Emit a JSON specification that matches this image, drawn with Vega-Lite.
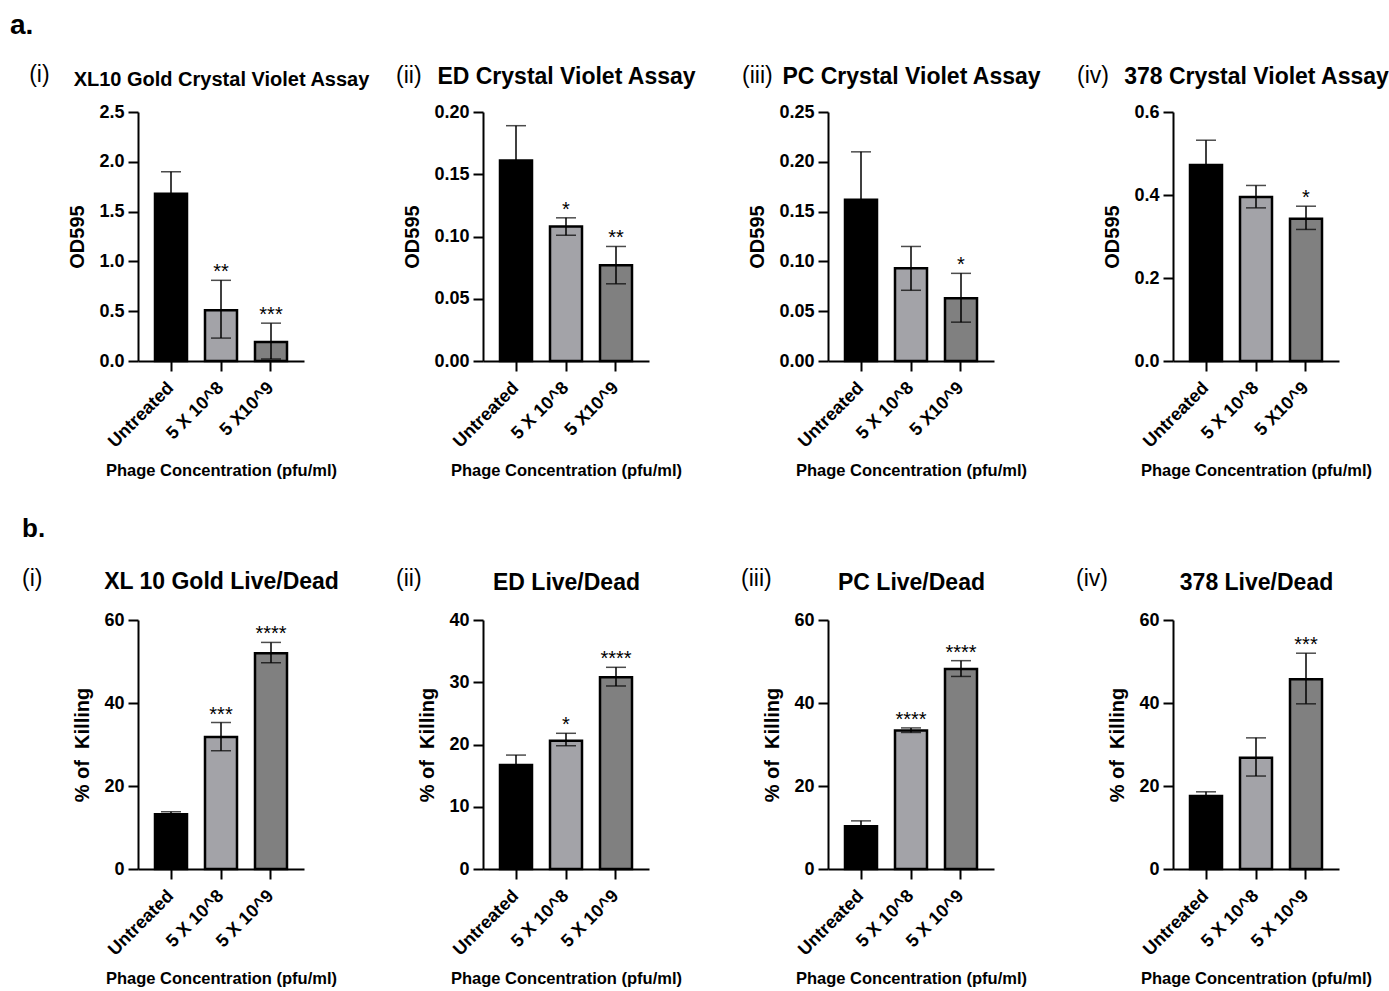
{
  "$schema": "https://vega.github.io/schema/vega-lite/v6.json",
  "padding": {"left": 10, "top": 12, "right": 5, "bottom": 5},
  "background": "white",
  "datasets": {
    "a1": [
      {"cond": "Untreated", "mean": 1.68, "lo": 1.46, "hi": 1.9, "sig": ""},
      {"cond": "5 X 10^8", "mean": 0.51, "lo": 0.23, "hi": 0.81, "sig": "**"},
      {"cond": "5 X10^9", "mean": 0.19, "lo": 0.02, "hi": 0.38, "sig": "***"}
    ],
    "a2": [
      {"cond": "Untreated", "mean": 0.161, "lo": 0.133, "hi": 0.189, "sig": ""},
      {"cond": "5 X 10^8", "mean": 0.108, "lo": 0.101, "hi": 0.115, "sig": "*"},
      {"cond": "5 X10^9", "mean": 0.077, "lo": 0.062, "hi": 0.092, "sig": "**"}
    ],
    "a3": [
      {"cond": "Untreated", "mean": 0.162, "lo": 0.114, "hi": 0.21, "sig": ""},
      {"cond": "5 X 10^8", "mean": 0.093, "lo": 0.071, "hi": 0.115, "sig": ""},
      {"cond": "5 X10^9", "mean": 0.063, "lo": 0.039, "hi": 0.088, "sig": "*"}
    ],
    "a4": [
      {"cond": "Untreated", "mean": 0.472, "lo": 0.412, "hi": 0.532, "sig": ""},
      {"cond": "5 X 10^8", "mean": 0.395, "lo": 0.369, "hi": 0.423, "sig": ""},
      {"cond": "5 X10^9", "mean": 0.343, "lo": 0.317, "hi": 0.373, "sig": "*"}
    ],
    "b1": [
      {"cond": "Untreated", "mean": 13.2, "lo": 12.6, "hi": 13.8, "sig": ""},
      {"cond": "5 X 10^8", "mean": 31.8, "lo": 28.5, "hi": 35.3, "sig": "***"},
      {"cond": "5 X 10^9", "mean": 52.0, "lo": 49.7, "hi": 54.6, "sig": "****"}
    ],
    "b2": [
      {"cond": "Untreated", "mean": 16.7, "lo": 15.0, "hi": 18.3, "sig": ""},
      {"cond": "5 X 10^8", "mean": 20.6, "lo": 19.8, "hi": 21.8, "sig": "*"},
      {"cond": "5 X 10^9", "mean": 30.8, "lo": 29.4, "hi": 32.4, "sig": "****"}
    ],
    "b3": [
      {"cond": "Untreated", "mean": 10.3, "lo": 9.0, "hi": 11.6, "sig": ""},
      {"cond": "5 X 10^8", "mean": 33.4, "lo": 32.9, "hi": 34.0, "sig": "****"},
      {"cond": "5 X 10^9", "mean": 48.2, "lo": 46.4, "hi": 50.2, "sig": "****"}
    ],
    "b4": [
      {"cond": "Untreated", "mean": 17.6, "lo": 16.6, "hi": 18.6, "sig": ""},
      {"cond": "5 X 10^8", "mean": 26.8, "lo": 22.4, "hi": 31.6, "sig": ""},
      {"cond": "5 X 10^9", "mean": 45.7, "lo": 39.8, "hi": 52.0, "sig": "***"}
    ]
  },
  "columns": 4,
  "bounds": "flush",
  "spacing": {"row": 259, "column": 179},
  "resolve": {"scale": {"color": "independent"}},
  "concat": [
    {
      "data": {"name": "a1"}, "width": 166, "height": 249,
      "title": {"text": "a.", "subtitle": "\u200b\u00a0\u00a0\u00a0(i)", "fontSize": 28, "fontWeight": "bold", "subtitleFontSize": 23, "subtitleFontWeight": "normal", "subtitlePadding": 24, "dx": -128, "dy": 22},
      "resolve": {"axis": {"x": "independent"}},
      "layer": [
        {"mark": {"type": "bar", "stroke": "black", "strokeWidth": 2.5},
         "encoding": {
           "x": {"field": "cond", "type": "nominal", "sort": null, "scale": {"paddingInner": 0.36, "paddingOuter": 0.34}, "axis": {"title": "Phage Concentration (pfu/ml)"}},
           "y": {"field": "mean", "type": "quantitative", "scale": {"domain": [0, 2.5], "nice": false}, "axis": {"title": "OD595", "values": [0, 0.5, 1, 1.5, 2, 2.5], "format": ".1f"}},
           "color": {"field": "cond", "type": "nominal", "sort": null, "scale": {"range": ["#000000", "#a3a3a8", "#808080"]}, "legend": null}}},
        {"mark": {"type": "rule", "color": "black", "strokeWidth": 1.5},
         "encoding": {"x": {"field": "cond", "type": "nominal", "sort": null, "axis": null}, "y": {"field": "lo", "type": "quantitative"}, "y2": {"field": "hi"}}},
        {"mark": {"type": "tick", "color": "black", "thickness": 1.5, "size": 20},
         "encoding": {"x": {"field": "cond", "type": "nominal", "sort": null, "axis": null}, "y": {"field": "hi", "type": "quantitative"}}},
        {"mark": {"type": "tick", "color": "black", "thickness": 1.5, "size": 20},
         "encoding": {"x": {"field": "cond", "type": "nominal", "sort": null, "axis": null}, "y": {"field": "lo", "type": "quantitative"}}},
        {"mark": {"type": "text", "baseline": "alphabetic", "dy": -2, "fontSize": 20, "color": "black"},
         "encoding": {"x": {"field": "cond", "type": "nominal", "sort": null, "axis": {"orient": "top", "title": "XL10 Gold Crystal Violet Assay", "labels": false, "ticks": false, "domain": false, "titleFontSize": 20, "titlePadding": 27, "titleBaseline": "alphabetic"}}, "y": {"field": "hi", "type": "quantitative"}, "text": {"field": "sig"}}}
      ]
    },
    {
      "data": {"name": "a2"}, "width": 166, "height": 249,
      "title": {"text": "(ii)", "dx": -87, "dy": 27},
      "resolve": {"axis": {"x": "independent"}},
      "layer": [
        {"mark": {"type": "bar", "stroke": "black", "strokeWidth": 2.5},
         "encoding": {
           "x": {"field": "cond", "type": "nominal", "sort": null, "scale": {"paddingInner": 0.36, "paddingOuter": 0.34}, "axis": {"title": "Phage Concentration (pfu/ml)"}},
           "y": {"field": "mean", "type": "quantitative", "scale": {"domain": [0, 0.2], "nice": false}, "axis": {"title": "OD595", "values": [0, 0.05, 0.1, 0.15, 0.2], "format": ".2f"}},
           "color": {"field": "cond", "type": "nominal", "sort": null, "scale": {"range": ["#000000", "#a3a3a8", "#808080"]}, "legend": null}}},
        {"mark": {"type": "rule", "color": "black", "strokeWidth": 1.5},
         "encoding": {"x": {"field": "cond", "type": "nominal", "sort": null, "axis": null}, "y": {"field": "lo", "type": "quantitative"}, "y2": {"field": "hi"}}},
        {"mark": {"type": "tick", "color": "black", "thickness": 1.5, "size": 20},
         "encoding": {"x": {"field": "cond", "type": "nominal", "sort": null, "axis": null}, "y": {"field": "hi", "type": "quantitative"}}},
        {"mark": {"type": "tick", "color": "black", "thickness": 1.5, "size": 20},
         "encoding": {"x": {"field": "cond", "type": "nominal", "sort": null, "axis": null}, "y": {"field": "lo", "type": "quantitative"}}},
        {"mark": {"type": "text", "baseline": "alphabetic", "dy": -2, "fontSize": 20, "color": "black"},
         "encoding": {"x": {"field": "cond", "type": "nominal", "sort": null, "axis": {"orient": "top", "title": "ED Crystal Violet Assay", "labels": false, "ticks": false, "domain": false, "titleFontSize": 23, "titlePadding": 29, "titleBaseline": "alphabetic"}}, "y": {"field": "hi", "type": "quantitative"}, "text": {"field": "sig"}}}
      ]
    },
    {
      "data": {"name": "a3"}, "width": 166, "height": 249,
      "title": {"text": "(iii)", "dx": -86, "dy": 27},
      "resolve": {"axis": {"x": "independent"}},
      "layer": [
        {"mark": {"type": "bar", "stroke": "black", "strokeWidth": 2.5},
         "encoding": {
           "x": {"field": "cond", "type": "nominal", "sort": null, "scale": {"paddingInner": 0.36, "paddingOuter": 0.34}, "axis": {"title": "Phage Concentration (pfu/ml)"}},
           "y": {"field": "mean", "type": "quantitative", "scale": {"domain": [0, 0.25], "nice": false}, "axis": {"title": "OD595", "values": [0, 0.05, 0.1, 0.15, 0.2, 0.25], "format": ".2f"}},
           "color": {"field": "cond", "type": "nominal", "sort": null, "scale": {"range": ["#000000", "#a3a3a8", "#808080"]}, "legend": null}}},
        {"mark": {"type": "rule", "color": "black", "strokeWidth": 1.5},
         "encoding": {"x": {"field": "cond", "type": "nominal", "sort": null, "axis": null}, "y": {"field": "lo", "type": "quantitative"}, "y2": {"field": "hi"}}},
        {"mark": {"type": "tick", "color": "black", "thickness": 1.5, "size": 20},
         "encoding": {"x": {"field": "cond", "type": "nominal", "sort": null, "axis": null}, "y": {"field": "hi", "type": "quantitative"}}},
        {"mark": {"type": "tick", "color": "black", "thickness": 1.5, "size": 20},
         "encoding": {"x": {"field": "cond", "type": "nominal", "sort": null, "axis": null}, "y": {"field": "lo", "type": "quantitative"}}},
        {"mark": {"type": "text", "baseline": "alphabetic", "dy": -2, "fontSize": 20, "color": "black"},
         "encoding": {"x": {"field": "cond", "type": "nominal", "sort": null, "axis": {"orient": "top", "title": "PC Crystal Violet Assay", "labels": false, "ticks": false, "domain": false, "titleFontSize": 23, "titlePadding": 29, "titleBaseline": "alphabetic"}}, "y": {"field": "hi", "type": "quantitative"}, "text": {"field": "sig"}}}
      ]
    },
    {
      "data": {"name": "a4"}, "width": 166, "height": 249,
      "title": {"text": "(iv)", "dx": -96, "dy": 27},
      "resolve": {"axis": {"x": "independent"}},
      "layer": [
        {"mark": {"type": "bar", "stroke": "black", "strokeWidth": 2.5},
         "encoding": {
           "x": {"field": "cond", "type": "nominal", "sort": null, "scale": {"paddingInner": 0.36, "paddingOuter": 0.34}, "axis": {"title": "Phage Concentration (pfu/ml)"}},
           "y": {"field": "mean", "type": "quantitative", "scale": {"domain": [0, 0.6], "nice": false}, "axis": {"title": "OD595", "values": [0, 0.2, 0.4, 0.6], "format": ".1f"}},
           "color": {"field": "cond", "type": "nominal", "sort": null, "scale": {"range": ["#000000", "#a3a3a8", "#808080"]}, "legend": null}}},
        {"mark": {"type": "rule", "color": "black", "strokeWidth": 1.5},
         "encoding": {"x": {"field": "cond", "type": "nominal", "sort": null, "axis": null}, "y": {"field": "lo", "type": "quantitative"}, "y2": {"field": "hi"}}},
        {"mark": {"type": "tick", "color": "black", "thickness": 1.5, "size": 20},
         "encoding": {"x": {"field": "cond", "type": "nominal", "sort": null, "axis": null}, "y": {"field": "hi", "type": "quantitative"}}},
        {"mark": {"type": "tick", "color": "black", "thickness": 1.5, "size": 20},
         "encoding": {"x": {"field": "cond", "type": "nominal", "sort": null, "axis": null}, "y": {"field": "lo", "type": "quantitative"}}},
        {"mark": {"type": "text", "baseline": "alphabetic", "dy": -2, "fontSize": 20, "color": "black"},
         "encoding": {"x": {"field": "cond", "type": "nominal", "sort": null, "axis": {"orient": "top", "title": "378 Crystal Violet Assay", "labels": false, "ticks": false, "domain": false, "titleFontSize": 23, "titlePadding": 29, "titleBaseline": "alphabetic"}}, "y": {"field": "hi", "type": "quantitative"}, "text": {"field": "sig"}}}
      ]
    },
    {
      "data": {"name": "b1"}, "width": 166, "height": 249,
      "title": {"text": "b.", "subtitle": "(i)", "fontSize": 26, "fontWeight": "bold", "subtitleFontSize": 23, "subtitleFontWeight": "normal", "subtitlePadding": 26, "dx": -116, "dy": 25},
      "resolve": {"axis": {"x": "independent"}},
      "layer": [
        {"mark": {"type": "bar", "stroke": "black", "strokeWidth": 2.5},
         "encoding": {
           "x": {"field": "cond", "type": "nominal", "sort": null, "scale": {"paddingInner": 0.36, "paddingOuter": 0.34}, "axis": {"title": "Phage Concentration (pfu/ml)"}},
           "y": {"field": "mean", "type": "quantitative", "scale": {"domain": [0, 60], "nice": false}, "axis": {"title": "% of\u00a0 Killing", "values": [0, 20, 40, 60]}},
           "color": {"field": "cond", "type": "nominal", "sort": null, "scale": {"range": ["#000000", "#a3a3a8", "#808080"]}, "legend": null}}},
        {"mark": {"type": "rule", "color": "black", "strokeWidth": 1.5},
         "encoding": {"x": {"field": "cond", "type": "nominal", "sort": null, "axis": null}, "y": {"field": "lo", "type": "quantitative"}, "y2": {"field": "hi"}}},
        {"mark": {"type": "tick", "color": "black", "thickness": 1.5, "size": 20},
         "encoding": {"x": {"field": "cond", "type": "nominal", "sort": null, "axis": null}, "y": {"field": "hi", "type": "quantitative"}}},
        {"mark": {"type": "tick", "color": "black", "thickness": 1.5, "size": 20},
         "encoding": {"x": {"field": "cond", "type": "nominal", "sort": null, "axis": null}, "y": {"field": "lo", "type": "quantitative"}}},
        {"mark": {"type": "text", "baseline": "alphabetic", "dy": -2, "fontSize": 20, "color": "black"},
         "encoding": {"x": {"field": "cond", "type": "nominal", "sort": null, "axis": {"orient": "top", "title": "XL 10 Gold Live/Dead", "labels": false, "ticks": false, "domain": false, "titleFontSize": 23, "titlePadding": 32, "titleBaseline": "alphabetic"}}, "y": {"field": "hi", "type": "quantitative"}, "text": {"field": "sig"}}}
      ]
    },
    {
      "data": {"name": "b2"}, "width": 166, "height": 249,
      "title": {"text": "(ii)", "dx": -87, "dy": 24},
      "resolve": {"axis": {"x": "independent"}},
      "layer": [
        {"mark": {"type": "bar", "stroke": "black", "strokeWidth": 2.5},
         "encoding": {
           "x": {"field": "cond", "type": "nominal", "sort": null, "scale": {"paddingInner": 0.36, "paddingOuter": 0.34}, "axis": {"title": "Phage Concentration (pfu/ml)"}},
           "y": {"field": "mean", "type": "quantitative", "scale": {"domain": [0, 40], "nice": false}, "axis": {"title": "% of\u00a0 Killing", "values": [0, 10, 20, 30, 40]}},
           "color": {"field": "cond", "type": "nominal", "sort": null, "scale": {"range": ["#000000", "#a3a3a8", "#808080"]}, "legend": null}}},
        {"mark": {"type": "rule", "color": "black", "strokeWidth": 1.5},
         "encoding": {"x": {"field": "cond", "type": "nominal", "sort": null, "axis": null}, "y": {"field": "lo", "type": "quantitative"}, "y2": {"field": "hi"}}},
        {"mark": {"type": "tick", "color": "black", "thickness": 1.5, "size": 20},
         "encoding": {"x": {"field": "cond", "type": "nominal", "sort": null, "axis": null}, "y": {"field": "hi", "type": "quantitative"}}},
        {"mark": {"type": "tick", "color": "black", "thickness": 1.5, "size": 20},
         "encoding": {"x": {"field": "cond", "type": "nominal", "sort": null, "axis": null}, "y": {"field": "lo", "type": "quantitative"}}},
        {"mark": {"type": "text", "baseline": "alphabetic", "dy": -2, "fontSize": 20, "color": "black"},
         "encoding": {"x": {"field": "cond", "type": "nominal", "sort": null, "axis": {"orient": "top", "title": "ED Live/Dead", "labels": false, "ticks": false, "domain": false, "titleFontSize": 23, "titlePadding": 31, "titleBaseline": "alphabetic"}}, "y": {"field": "hi", "type": "quantitative"}, "text": {"field": "sig"}}}
      ]
    },
    {
      "data": {"name": "b3"}, "width": 166, "height": 249,
      "title": {"text": "(iii)", "dx": -87, "dy": 24},
      "resolve": {"axis": {"x": "independent"}},
      "layer": [
        {"mark": {"type": "bar", "stroke": "black", "strokeWidth": 2.5},
         "encoding": {
           "x": {"field": "cond", "type": "nominal", "sort": null, "scale": {"paddingInner": 0.36, "paddingOuter": 0.34}, "axis": {"title": "Phage Concentration (pfu/ml)"}},
           "y": {"field": "mean", "type": "quantitative", "scale": {"domain": [0, 60], "nice": false}, "axis": {"title": "% of\u00a0 Killing", "values": [0, 20, 40, 60]}},
           "color": {"field": "cond", "type": "nominal", "sort": null, "scale": {"range": ["#000000", "#a3a3a8", "#808080"]}, "legend": null}}},
        {"mark": {"type": "rule", "color": "black", "strokeWidth": 1.5},
         "encoding": {"x": {"field": "cond", "type": "nominal", "sort": null, "axis": null}, "y": {"field": "lo", "type": "quantitative"}, "y2": {"field": "hi"}}},
        {"mark": {"type": "tick", "color": "black", "thickness": 1.5, "size": 20},
         "encoding": {"x": {"field": "cond", "type": "nominal", "sort": null, "axis": null}, "y": {"field": "hi", "type": "quantitative"}}},
        {"mark": {"type": "tick", "color": "black", "thickness": 1.5, "size": 20},
         "encoding": {"x": {"field": "cond", "type": "nominal", "sort": null, "axis": null}, "y": {"field": "lo", "type": "quantitative"}}},
        {"mark": {"type": "text", "baseline": "alphabetic", "dy": -2, "fontSize": 20, "color": "black"},
         "encoding": {"x": {"field": "cond", "type": "nominal", "sort": null, "axis": {"orient": "top", "title": "PC Live/Dead", "labels": false, "ticks": false, "domain": false, "titleFontSize": 23, "titlePadding": 31, "titleBaseline": "alphabetic"}}, "y": {"field": "hi", "type": "quantitative"}, "text": {"field": "sig"}}}
      ]
    },
    {
      "data": {"name": "b4"}, "width": 166, "height": 249,
      "title": {"text": "(iv)", "dx": -97, "dy": 24},
      "resolve": {"axis": {"x": "independent"}},
      "layer": [
        {"mark": {"type": "bar", "stroke": "black", "strokeWidth": 2.5},
         "encoding": {
           "x": {"field": "cond", "type": "nominal", "sort": null, "scale": {"paddingInner": 0.36, "paddingOuter": 0.34}, "axis": {"title": "Phage Concentration (pfu/ml)"}},
           "y": {"field": "mean", "type": "quantitative", "scale": {"domain": [0, 60], "nice": false}, "axis": {"title": "% of\u00a0 Killing", "values": [0, 20, 40, 60]}},
           "color": {"field": "cond", "type": "nominal", "sort": null, "scale": {"range": ["#000000", "#a3a3a8", "#808080"]}, "legend": null}}},
        {"mark": {"type": "rule", "color": "black", "strokeWidth": 1.5},
         "encoding": {"x": {"field": "cond", "type": "nominal", "sort": null, "axis": null}, "y": {"field": "lo", "type": "quantitative"}, "y2": {"field": "hi"}}},
        {"mark": {"type": "tick", "color": "black", "thickness": 1.5, "size": 20},
         "encoding": {"x": {"field": "cond", "type": "nominal", "sort": null, "axis": null}, "y": {"field": "hi", "type": "quantitative"}}},
        {"mark": {"type": "tick", "color": "black", "thickness": 1.5, "size": 20},
         "encoding": {"x": {"field": "cond", "type": "nominal", "sort": null, "axis": null}, "y": {"field": "lo", "type": "quantitative"}}},
        {"mark": {"type": "text", "baseline": "alphabetic", "dy": -2, "fontSize": 20, "color": "black"},
         "encoding": {"x": {"field": "cond", "type": "nominal", "sort": null, "axis": {"orient": "top", "title": "378 Live/Dead", "labels": false, "ticks": false, "domain": false, "titleFontSize": 23, "titlePadding": 31, "titleBaseline": "alphabetic"}}, "y": {"field": "hi", "type": "quantitative"}, "text": {"field": "sig"}}}
      ]
    }
  ],
  "config": {
    "font": "Liberation Sans",
    "view": {"stroke": null},
    "axis": {"grid": false, "domainColor": "black", "domainWidth": 2, "tickColor": "black", "tickWidth": 2, "tickSize": 10, "labelColor": "black", "labelFontWeight": "bold", "labelFontSize": 18, "labelPadding": 2, "titleColor": "black", "titleFontWeight": "bold"},
    "axisY": {"titleFontSize": 20, "titlePadding": 11, "labelPadding": 4},
    "axisX": {"labelAngle": -45, "labelFontSize": 18, "labelBaseline": "middle", "labelPadding": 14, "titleFontSize": 16.5, "titlePadding": 12},
    "title": {"color": "black", "subtitleColor": "black", "anchor": "start", "frame": "group", "offset": 0, "fontWeight": "normal", "fontSize": 23}
  }
}
